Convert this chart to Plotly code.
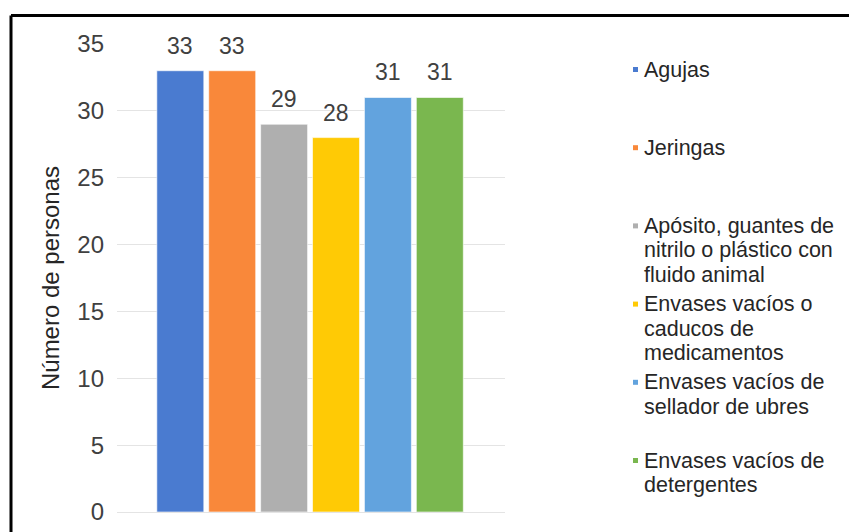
import plotly.graph_objects as go

# Residue categories and number of people reporting each one
categorias = [
    "Agujas",
    "Jeringas",
    "Apósito, guantes de<br>nitrilo o plástico con<br>fluido animal",
    "Envases vacíos o<br>caducos de<br>medicamentos",
    "Envases vacíos de<br>sellador de ubres",
    "Envases vacíos de<br>detergentes",
]
personas = [33, 33, 29, 28, 31, 31]
colores = ["#4a7bd0", "#f9883a", "#afafaf", "#ffca05", "#62a3de", "#7ab74f"]
y_ticks = [0, 5, 10, 15, 20, 25, 30, 35]
y_titulo = "Número de personas"

W, H = 849, 532
ML, MR, MT, MB = 117, 344, 44, 20
PW, PH = W - ML - MR, H - MT - MB

FONT = "Liberation Sans, Arial, sans-serif"


def px_x(px):
    return (px - ML) / PW


def px_y(py):
    return (H - MB - py) / PH


fig = go.Figure()
for i, (cat, val, col) in enumerate(zip(categorias, personas, colores)):
    fig.add_trace(go.Bar(
        x=[i], y=[val], width=0.905,
        marker=dict(color=col, line=dict(color="rgba(255,255,255,0.6)", width=1)),
        name=cat, showlegend=False, hoverinfo="skip",
    ))
    # value label above each bar
    fig.add_annotation(
        x=i, y=val, xref="x", yref="y", text=str(val), showarrow=False,
        yshift=25, yanchor="middle",
        font=dict(family=FONT, size=23, color="#404040"),
    )

# legend drawn as swatches + text lines at fixed slots
for i, (cat, col) in enumerate(zip(categorias, colores)):
    top = 69.5 + 78.2 * i
    fig.add_shape(
        type="rect", xref="paper", yref="paper",
        x0=px_x(633), x1=px_x(638), y0=px_y(top - 2.5), y1=px_y(top + 2.5),
        fillcolor=col, line=dict(width=0),
    )
    for j, line in enumerate(cat.split("<br>")):
        fig.add_annotation(
            x=px_x(642), y=px_y(top + 24.5 * j), xref="paper", yref="paper",
            text=line, showarrow=False, xanchor="left", yanchor="middle",
            font=dict(family=FONT, size=21.5, color="#262626"),
        )

# outer frame (top and left edges)
fig.add_shape(type="line", xref="paper", yref="paper",
              x0=px_x(11), x1=px_x(900), y0=px_y(15.5), y1=px_y(15.5),
              line=dict(color="black", width=3))
fig.add_shape(type="line", xref="paper", yref="paper",
              x0=px_x(11), x1=px_x(11), y0=px_y(15.5), y1=px_y(600),
              line=dict(color="black", width=3))

fig.update_layout(
    width=W, height=H,
    margin=dict(l=ML, r=MR, t=MT, b=MB),
    paper_bgcolor="white", plot_bgcolor="white",
    showlegend=False,
    font=dict(family=FONT, color="#404040"),
    xaxis=dict(range=[-1.22, 6.256], showticklabels=False, showgrid=False,
               zeroline=False, showline=False, fixedrange=True,
               automargin=False),
    yaxis=dict(range=[0, 35], tickvals=y_ticks, showgrid=True,
               gridcolor="#e4e4e4", gridwidth=1,
               zeroline=True, zerolinecolor="#e4e4e4", zerolinewidth=1,
               showline=False, automargin=False,
               tickfont=dict(family=FONT, size=24, color="#404040"),
               ticklabelstandoff=12,
               title=dict(text=y_titulo, standoff=10,
                          font=dict(family=FONT, size=24, color="#262626"))),
)

fig.write_html("out.html")
